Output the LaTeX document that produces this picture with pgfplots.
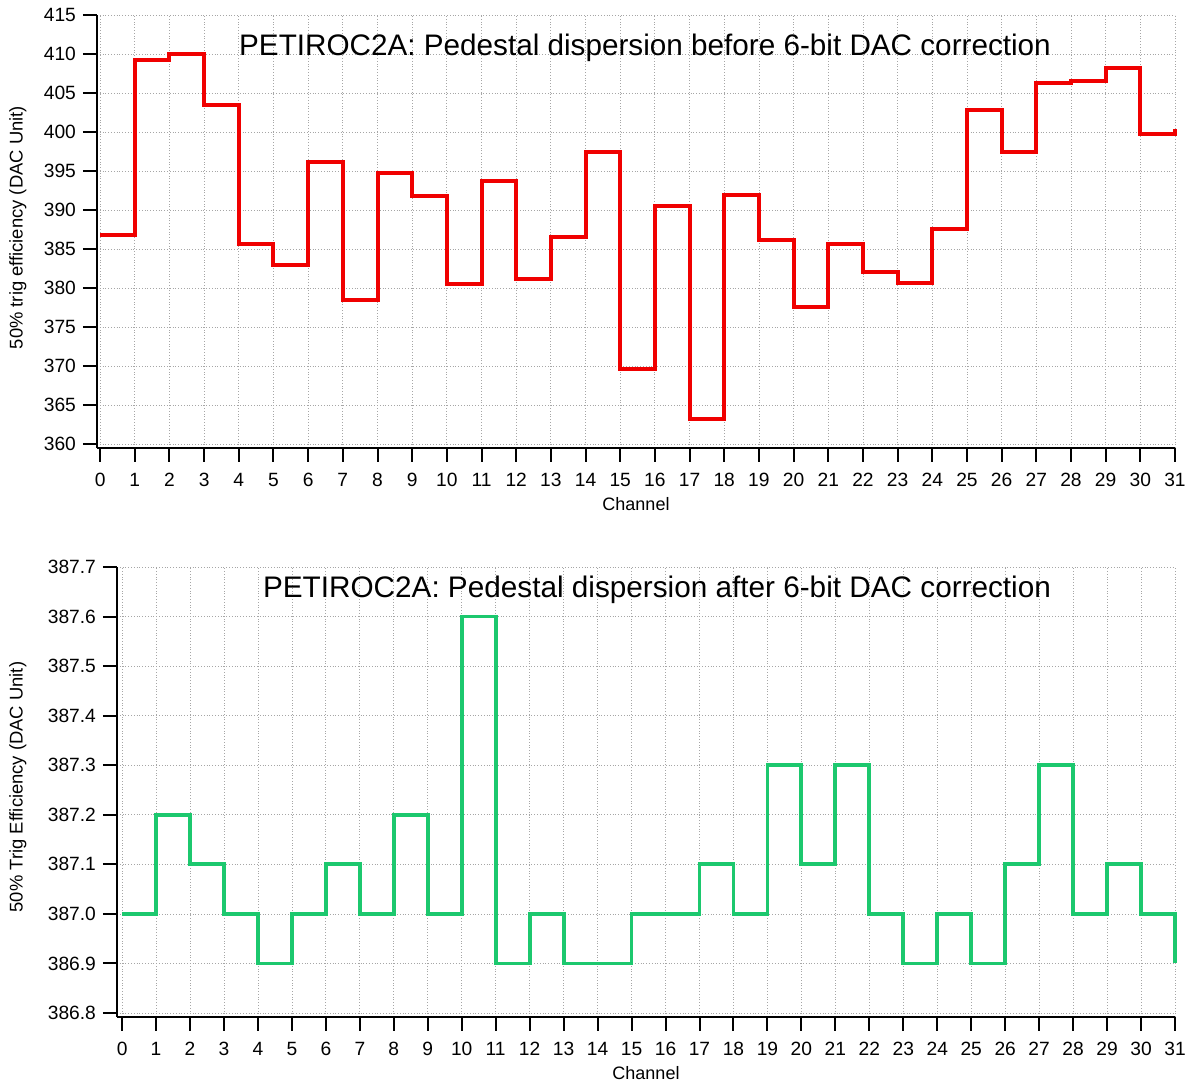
\documentclass[border=0pt]{standalone}
\usepackage{pgfplots}
\pgfplotsset{compat=1.18}
\usepackage{fontspec}
\setmainfont{Liberation Sans}
\definecolor{myred}{RGB}{240,0,0}
\definecolor{mygreen}{RGB}{28,200,110}
\pgfplotsset{
  mystyle/.style={
    scale only axis,
    axis x line=bottom, axis y line=left,
    axis line style={-, line width=1pt, black},
    tick align=outside,
    major tick length=7pt,
    tick style={line width=1pt, black},
    grid=major,
    grid style={densely dotted, gray!70, line width=0.4pt},
    xtick={0,1,...,31},
    ticklabel style={font=\fontsize{9.6}{11}\selectfont},
    xticklabel style={yshift=-2pt},
    /pgf/number format/assume math mode=true,
    xlabel={Channel},
    xlabel style={font=\fontsize{9}{10}\selectfont, yshift=1.5pt},
    ylabel style={font=\fontsize{9.2}{11}\selectfont, anchor=center},
    clip=false,
  }
}
\begin{document}
\begin{tikzpicture}
\useasboundingbox (0,0) rectangle (595.5pt,541.5pt);
\begin{axis}[mystyle,
  at={(48.5pt,317.5pt)}, anchor=south west,
  width=539pt, height=216.5pt,
  xmin=-0.09, xmax=31, ymin=359.5, ymax=415,
  ytick={360,365,...,415},
  ylabel={50\% trig efficiency (DAC Unit)},
  ylabel style={at={(axis description cs:-0.0733,0.509)}},
]
\addplot[const plot, myred, line width=2pt] coordinates {
(0,386.8) (1,409.2) (2,410.0) (3,403.4) (4,385.7) (5,383.0) (6,396.2) (7,378.5)
(8,394.8) (9,391.8) (10,380.5) (11,393.7) (12,381.1) (13,386.6) (14,397.5) (15,369.6)
(16,390.5) (17,363.2) (18,391.9) (19,386.1) (20,377.6) (21,385.7) (22,382.1) (23,380.7)
(24,387.6) (25,402.8) (26,397.4) (27,406.3) (28,406.6) (29,408.2) (30,399.7) (31,400.4)
};
\end{axis}
\node[font=\fontsize{14.84}{17}\selectfont] at (322.5pt,517.5pt) {PETIROC2A: Pedestal dispersion before 6-bit DAC correction};
\begin{axis}[mystyle,
  at={(58.5pt,33pt)}, anchor=south west,
  width=529pt, height=225pt,
  xmin=-0.15, xmax=31, ymin=386.792, ymax=387.7,
  ytick={386.8,386.9,...,387.75},
  yticklabel style={/pgf/number format/.cd, fixed, fixed zerofill, precision=1},
  ylabel={50\% Trig Efficiency (DAC Unit)},
  ylabel style={at={(axis description cs:-0.0936,0.511)}},
]
\addplot[const plot, mygreen, line width=1.9pt] coordinates {
(0,387.0) (1,387.2) (2,387.1) (3,387.0) (4,386.9) (5,387.0) (6,387.1) (7,387.0)
(8,387.2) (9,387.0) (10,387.6) (11,386.9) (12,387.0) (13,386.9) (14,386.9) (15,387.0)
(16,387.0) (17,387.1) (18,387.0) (19,387.3) (20,387.1) (21,387.3) (22,387.0) (23,386.9)
(24,387.0) (25,386.9) (26,387.1) (27,387.3) (28,387.0) (29,387.1) (30,387.0) (31,386.9)
};
\end{axis}
\node[font=\fontsize{14.86}{17}\selectfont] at (328.5pt,246.5pt) {PETIROC2A: Pedestal dispersion after 6-bit DAC correction};
\end{tikzpicture}
\end{document}
